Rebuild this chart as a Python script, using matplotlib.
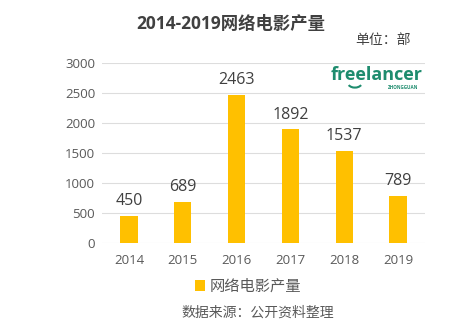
import matplotlib.pyplot as plt
from matplotlib.patches import Arc

plt.rcParams['font.family'] = ['Open Sans', 'Noto Sans CJK SC', 'DejaVu Sans']

# 数据
years = ['2014', '2015', '2016', '2017', '2018', '2019']
counts = [450, 689, 2463, 1892, 1537, 789]
yticks = [0, 500, 1000, 1500, 2000, 2500, 3000]

bar_color = '#FFC000'
text_color = '#404040'
tick_color = '#595959'
logo_color = '#1E8C6E'

fig = plt.figure(figsize=(4.77, 3.33), dpi=100)
ax = fig.add_axes([0.214, 0.270, 0.677, 0.541])

x = range(len(years))
bars = ax.bar(x, counts, width=0.32, color=bar_color, label='网络电影产量', zorder=2)
for xi, v in zip(x, counts):
    ax.text(xi, v + 180, str(v), ha='center', va='baseline', fontsize=11.5, color=text_color)

ax.set_xlim(-0.5, 5.5)
ax.set_ylim(0, 3000)
ax.set_xticks(list(x))
ax.set_xticklabels(years)
ax.set_yticks(yticks)
ax.grid(axis='y', color='#DDDDDD', lw=0.8, zorder=0)
ax.tick_params(length=0, labelsize=9.5, colors=tick_color)
ax.tick_params(axis='x', pad=8)
ax.tick_params(axis='y', pad=5)
for s in ax.spines.values():
    s.set_visible(False)

# 标题和单位
fig.text(0.483, 0.928, '2014-2019网络电影产量', ha='center', va='center',
         fontsize=12.5, fontweight='bold', color=text_color)
fig.text(0.803, 0.878, '单位：部', ha='center', va='center', fontsize=10, color=text_color)

# logo
fig.text(0.789, 0.775, 'freelancer', ha='center', va='center', fontsize=13,
         fontweight='bold', color=logo_color)
fig.text(0.845, 0.737, 'ZHONGGUAN', ha='center', va='center', fontsize=3.3,
         fontweight='bold', color=logo_color)
fig.add_artist(Arc((0.744, 0.752), 0.03, 0.03, theta1=210, theta2=330,
                   transform=fig.transFigure, color=logo_color, lw=1.5))

# 图例和来源
leg = fig.legend(handles=[bars], loc='center', bbox_to_anchor=(0.52, 0.137), frameon=False,
                 fontsize=11, handlelength=0.7, handleheight=0.7, handletextpad=0.3)
for t in leg.get_texts():
    t.set_color(tick_color)
fig.text(0.54, 0.06, '数据来源：公开资料整理', ha='center', va='center', fontsize=10, color=tick_color)

fig.savefig('out.png', dpi=100)
